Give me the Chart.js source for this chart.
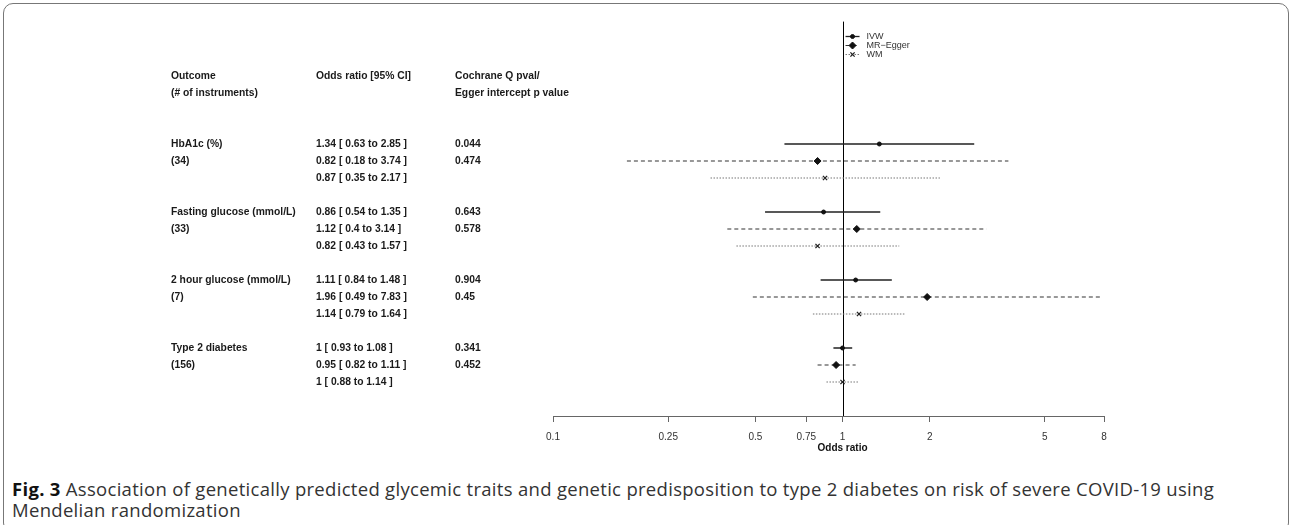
<!DOCTYPE html>
<html>
<head>
<meta charset="utf-8">
<script src="https://cdn.jsdelivr.net/npm/chart.js@4.4.0/dist/chart.umd.min.js"></script>
<style>
html,body{margin:0;padding:0;background:#fff;}
body{width:1292px;height:525px;position:relative;overflow:hidden;}
#frame{position:absolute;left:3px;top:3px;width:1286px;height:530px;border:1px solid #777;border-radius:10px;box-sizing:border-box;}
#wrap{position:absolute;left:0;top:0;width:1292px;height:462px;}
#caption{position:absolute;left:12px;top:478px;font-family:'Open Sans',sans-serif;font-size:18.5px;letter-spacing:0.3px;line-height:21px;color:#333;white-space:nowrap;}
#caption b{color:#111;}
</style>
</head>
<body>
<div id="frame"></div>
<div id="wrap"><canvas id="chart1" width="1292" height="462"></canvas></div>
<div id="caption"><b>Fig. 3</b> Association of genetically predicted glycemic traits and genetic predisposition to type 2 diabetes on risk of severe COVID-19 using<br>Mendelian randomization</div>
<script>
var outcomes = ["HbA1c (%)", "Fasting glucose (mmol/L)", "2 hour glucose (mmol/L)", "Type 2 diabetes"];
var nInstruments = ["(34)", "(33)", "(7)", "(156)"];
var methods = ["IVW", "MR\u2212Egger", "WM"];

var ivwOR = [1.34, 0.86, 1.11, 1];
var ivwLo = [0.63, 0.54, 0.84, 0.93];
var ivwHi = [2.85, 1.35, 1.48, 1.08];

var eggerOR = [0.82, 1.12, 1.96, 0.95];
var eggerLo = [0.18, 0.4, 0.49, 0.82];
var eggerHi = [3.74, 3.14, 7.83, 1.11];

var wmOR = [0.87, 0.82, 1.14, 1];
var wmLo = [0.35, 0.43, 0.79, 0.88];
var wmHi = [2.17, 1.57, 1.64, 1.14];

var cochraneQ = ["0.044", "0.643", "0.904", "0.341"];
var eggerP = ["0.474", "0.578", "0.45", "0.452"];

var xTicks = [0.1, 0.25, 0.5, 0.75, 1, 2, 5, 8];

var tableFont = "bold 10.3px 'Liberation Sans', Arial, sans-serif";
var colOutcome = 171, colOR = 316, colQ = 455;

// row number on the y scale: 4 rows per outcome, one per method
function row(g, m){ return 4 * g + m; }

function segments(lo, hi, m){
    var d = [];
    for (var g = 0; g < lo.length; g++){
        d.push({x: lo[g], y: row(g, m)});
        d.push({x: hi[g], y: row(g, m)});
        d.push({x: null, y: null});
    }
    return d;
}
function points(or, m){
    var d = [];
    for (var g = 0; g < or.length; g++){
        d.push({x: or[g], y: row(g, m)});
    }
    return d;
}
function orText(o, l, h){ return o + " [ " + l + " to " + h + " ]"; }

var styles = [
    {line: '#222', dash: [], width: 1.3, pstyle: 'circle', r: 2, pcol: '#111', pw: 1},
    {line: '#333', dash: [4, 3], width: 1.2, pstyle: 'rectRot', r: 3.5, pcol: '#111', pw: 1},
    {line: '#777', dash: [1.5, 1.5], width: 1.2, pstyle: 'crossRot', r: 3, pcol: '#222', pw: 1.3}
];
var ors = [ivwOR, eggerOR, wmOR], los = [ivwLo, eggerLo, wmLo], his = [ivwHi, eggerHi, wmHi];

var datasets = [];
for (var m = 0; m < 3; m++){
    datasets.push({
        label: methods[m] + ' CI',
        data: segments(los[m], his[m], m),
        showLine: true, spanGaps: false,
        borderColor: styles[m].line, borderDash: styles[m].dash, borderWidth: styles[m].width,
        pointRadius: 0, order: 2
    });
    datasets.push({
        label: methods[m],
        data: points(ors[m], m),
        showLine: false,
        pointStyle: styles[m].pstyle, pointRadius: styles[m].r,
        backgroundColor: styles[m].pcol, borderColor: styles[m].pcol, pointBorderWidth: styles[m].pw,
        order: 1
    });
}

var forestPlugin = {
    id: 'forest',
    beforeDatasetsDraw: function(chart){
        var ctx = chart.ctx, xs = chart.scales.x, ys = chart.scales.y;
        var x = Math.round(xs.getPixelForValue(1)) + 0.5;
        ctx.save();
        ctx.strokeStyle = '#000';
        ctx.lineWidth = 1;
        ctx.beginPath();
        ctx.moveTo(x, ys.getPixelForValue(-7.2));
        ctx.lineTo(x, chart.chartArea.bottom);
        ctx.stroke();
        ctx.restore();
    },
    afterDraw: function(chart){
        var ctx = chart.ctx, xs = chart.scales.x, ys = chart.scales.y;
        ctx.save();
        ctx.fillStyle = '#1a1a1a';
        ctx.font = tableFont;
        ctx.textBaseline = 'middle';
        ctx.textAlign = 'left';
        ctx.fillText("Outcome", colOutcome, ys.getPixelForValue(-4));
        ctx.fillText("(# of instruments)", colOutcome, ys.getPixelForValue(-3));
        ctx.fillText("Odds ratio [95% CI]", colOR, ys.getPixelForValue(-4));
        ctx.fillText("Cochrane Q pval/", colQ, ys.getPixelForValue(-4));
        ctx.fillText("Egger intercept p value", colQ, ys.getPixelForValue(-3));
        for (var g = 0; g < outcomes.length; g++){
            ctx.fillText(outcomes[g], colOutcome, ys.getPixelForValue(row(g, 0)));
            ctx.fillText(nInstruments[g], colOutcome, ys.getPixelForValue(row(g, 1)));
            for (var m = 0; m < 3; m++){
                ctx.fillText(orText(ors[m][g], los[m][g], his[m][g]), colOR, ys.getPixelForValue(row(g, m)));
            }
            ctx.fillText(cochraneQ[g], colQ, ys.getPixelForValue(row(g, 0)));
            ctx.fillText(eggerP[g], colQ, ys.getPixelForValue(row(g, 1)));
        }

        // axis title, centred under OR = 1
        var x1 = xs.getPixelForValue(1);
        ctx.textAlign = 'center';
        ctx.fillStyle = '#111';
        ctx.font = "bold 10px 'Liberation Sans', Arial, sans-serif";
        ctx.fillText("Odds ratio", x1, 448);

        // legend
        ctx.textAlign = 'left';
        ctx.font = "9px 'Liberation Sans', Arial, sans-serif";
        var ly = ys.getPixelForValue(-6.35);
        for (var i = 0; i < 3; i++){
            var y = Math.round(ly + i * 9) + 0.5;
            ctx.strokeStyle = styles[i].line;
            ctx.lineWidth = styles[i].width;
            ctx.setLineDash(styles[i].dash);
            ctx.beginPath();
            ctx.moveTo(x1 + 3, y);
            ctx.lineTo(x1 + 17, y);
            ctx.stroke();
            ctx.setLineDash([]);
            ctx.fillStyle = styles[i].pcol;
            ctx.strokeStyle = styles[i].pcol;
            ctx.lineWidth = styles[i].pw;
            Chart.helpers.drawPoint(ctx, {pointStyle: styles[i].pstyle, radius: styles[i].r, borderWidth: styles[i].pw}, x1 + 10, y);
            ctx.fillStyle = '#333';
            ctx.fillText(methods[i], x1 + 24, y);
        }
        ctx.restore();
    }
};

const chart1 = document.getElementById("chart1");
new Chart(chart1, {
    type: 'scatter',
    data: {datasets: datasets},
    options: {
        responsive: false,
        animation: false,
        layout: {padding: {left: 553, right: 188, top: 25, bottom: 0}},
        plugins: {legend: {display: false}, tooltip: {enabled: false}},
        scales: {
            x: {
                type: 'logarithmic', min: 0.1, max: 8, position: 'bottom',
                afterBuildTicks: function(s){ s.ticks = xTicks.map(function(v){ return {value: v}; }); },
                afterFit: function(s){ s.height = 46; },
                grid: {display: true, drawOnChartArea: false, drawTicks: true, tickLength: 6, color: '#666'},
                border: {display: true, color: '#666', width: 1},
                ticks: {
                    autoSkip: false, maxRotation: 0, padding: 9, color: '#333',
                    font: {size: 10, family: "'Liberation Sans', Arial, sans-serif"},
                    callback: function(v){ return String(v); }
                }
            },
            y: {
                type: 'linear', display: false, reverse: true, min: -7, max: 16
            }
        }
    },
    plugins: [forestPlugin]
});
</script>
</body>
</html>
